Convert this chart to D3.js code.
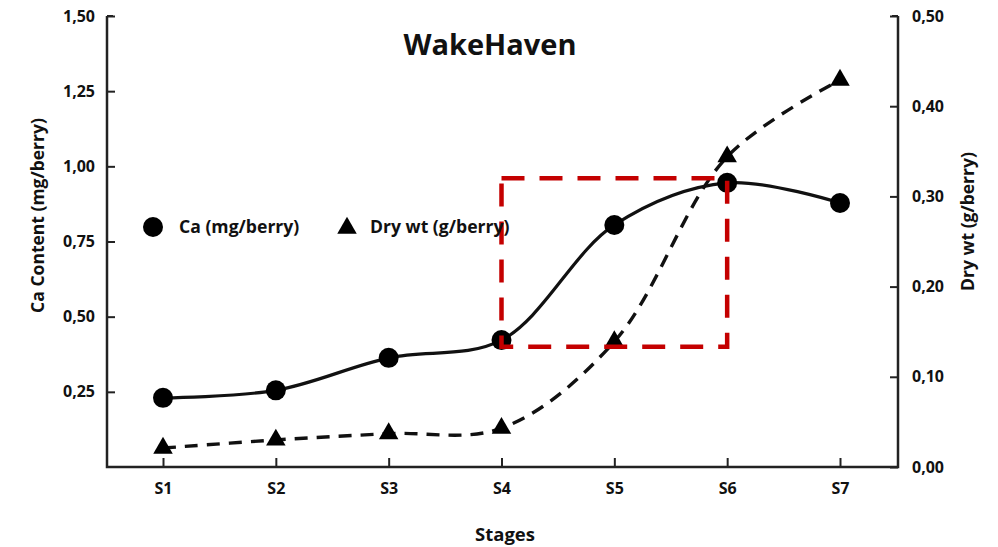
<!DOCTYPE html>
<html>
<head>
<meta charset="utf-8">
<script src="https://cdn.jsdelivr.net/npm/d3@7"></script>
<style>
  html, body { margin: 0; padding: 0; background: #fff; }
  svg { display: block; }
  text { font-family: "Open Sans", Lato, sans-serif; font-weight: bold; fill: #111; }
</style>
</head>
<body>
<svg id="chart" width="998" height="547"></svg>
<script>
// ---- data ----
const stages = ["S1", "S2", "S3", "S4", "S5", "S6", "S7"];
const caValues = [0.23, 0.255, 0.363, 0.422, 0.805, 0.945, 0.878];
const dryValues = [0.021, 0.030, 0.037, 0.043, 0.139, 0.344, 0.429];
const caTicks = [0.25, 0.50, 0.75, 1.00, 1.25, 1.50];
const dryTicks = [0.00, 0.10, 0.20, 0.30, 0.40, 0.50];
const highlightStages = ["S4", "S6"];
const highlightCa = [0.40, 0.96];
const chartTitle = "WakeHaven";
const seriesNames = ["Ca (mg/berry)", "Dry wt (g/berry)"];

// ---- layout ----
const svg = d3.select("#chart");
const pLeft = 107, pRight = 898, pTop = 16, pBottom = 467;
const fmt = d => d.toFixed(2).replace(".", ",");

const x = d3.scalePoint().domain(stages).range([163, 840]);
const yCa = d3.scaleLinear().domain([0, 1.5]).range([pBottom, pTop]);
const yDry = d3.scaleLinear().domain([0, 0.5]).range([pBottom, pTop]);

const axisColor = "#222";

// axes
const gL = svg.append("g").attr("transform", `translate(${pLeft},0)`)
  .call(d3.axisLeft(yCa).tickValues(caTicks).tickFormat(fmt).tickSize(-8).tickPadding(12));
const gR = svg.append("g").attr("transform", `translate(${pRight},0)`)
  .call(d3.axisRight(yDry).tickValues(dryTicks).tickFormat(fmt).tickSize(-8).tickPadding(14));
const gB = svg.append("g").attr("transform", `translate(0,${pBottom})`)
  .call(d3.axisBottom(x).tickSize(-9).tickPadding(16));
[gL, gR, gB].forEach(g => {
  g.select(".domain").remove();
  g.selectAll(".tick line").attr("stroke", axisColor).attr("stroke-width", 2);
  g.selectAll(".tick text").style("font-size", "16px").attr("fill", "#111");
});
gB.selectAll(".tick text").attr("dy", "0.71em");

// frame lines (left, bottom, right)
svg.append("path")
  .attr("d", `M${pLeft},${pTop}V${pBottom}H${pRight}V${pTop}`)
  .attr("fill", "none").attr("stroke", axisColor).attr("stroke-width", 2.5);
svg.append("line").attr("x1", pLeft).attr("x2", pLeft + 6).attr("y1", pTop).attr("y2", pTop)
  .attr("stroke", axisColor).attr("stroke-width", 2);
svg.append("line").attr("x1", pRight - 6).attr("x2", pRight).attr("y1", pTop).attr("y2", pTop)
  .attr("stroke", axisColor).attr("stroke-width", 2);

// axis titles
svg.append("text").attr("transform", `translate(38,${(pTop + pBottom) / 2 - 26}) rotate(-90)`)
  .attr("text-anchor", "middle").attr("dy", "0.35em").style("font-size", "17.5px").text("Ca Content (mg/berry)");
svg.append("text").attr("transform", `translate(968,${(pTop + pBottom) / 2 - 20}) rotate(-90)`)
  .attr("text-anchor", "middle").attr("dy", "0.35em").style("font-size", "17.5px").text("Dry wt (g/berry)");
svg.append("text").attr("x", 505).attr("y", 535).attr("dy", "0.35em")
  .attr("text-anchor", "middle").style("font-size", "18.5px").text("Stages");

// title
svg.append("text").attr("x", 490).attr("y", 45).attr("dy", "0.35em")
  .attr("text-anchor", "middle").style("font-size", "29px").text(chartTitle);

// lines
const caData = stages.map((s, i) => ({ s, v: caValues[i] }));
const dryData = stages.map((s, i) => ({ s, v: dryValues[i] }));

svg.append("path").datum(dryData)
  .attr("d", d3.line().x(d => x(d.s)).y(d => yDry(d.v)).curve(d3.curveCatmullRom.alpha(0.5)))
  .attr("fill", "none").attr("stroke", "#111").attr("stroke-width", 3.4)
  .attr("stroke-dasharray", "13,9");

svg.append("path").datum(caData)
  .attr("d", d3.line().x(d => x(d.s)).y(d => yCa(d.v)).curve(d3.curveCatmullRom.alpha(0.5)))
  .attr("fill", "none").attr("stroke", "#111").attr("stroke-width", 3.2);

// markers
const tri = d3.symbol().type(d3.symbolTriangle).size(165);
svg.append("g").selectAll("path").data(dryData).join("path")
  .attr("d", tri)
  .attr("transform", d => `translate(${x(d.s)},${yDry(d.v)})`)
  .attr("fill", "#000");

svg.append("g").selectAll("circle").data(caData).join("circle")
  .attr("cx", d => x(d.s)).attr("cy", d => yCa(d.v)).attr("r", 10)
  .attr("fill", "#000");

// highlight box
svg.append("rect")
  .attr("x", x(highlightStages[0])).attr("y", yCa(highlightCa[1]))
  .attr("width", x(highlightStages[1]) - x(highlightStages[0]))
  .attr("height", yCa(highlightCa[0]) - yCa(highlightCa[1]))
  .attr("fill", "none").attr("stroke", "#c40000").attr("stroke-width", 4.5)
  .attr("stroke-dasharray", "23,15");

// legend
const lg = svg.append("g").attr("transform", "translate(0,227)");
lg.append("circle").attr("cx", 153).attr("cy", 0).attr("r", 10).attr("fill", "#000");
lg.append("text").attr("x", 179).attr("y", 0).attr("dy", "0.35em")
  .style("font-size", "17.6px").text(seriesNames[0]);
lg.append("path").attr("d", tri).attr("transform", "translate(347,1)").attr("fill", "#000");
lg.append("text").attr("x", 370).attr("y", 0).attr("dy", "0.35em")
  .style("font-size", "17.6px").text(seriesNames[1]);
</script>
</body>
</html>
